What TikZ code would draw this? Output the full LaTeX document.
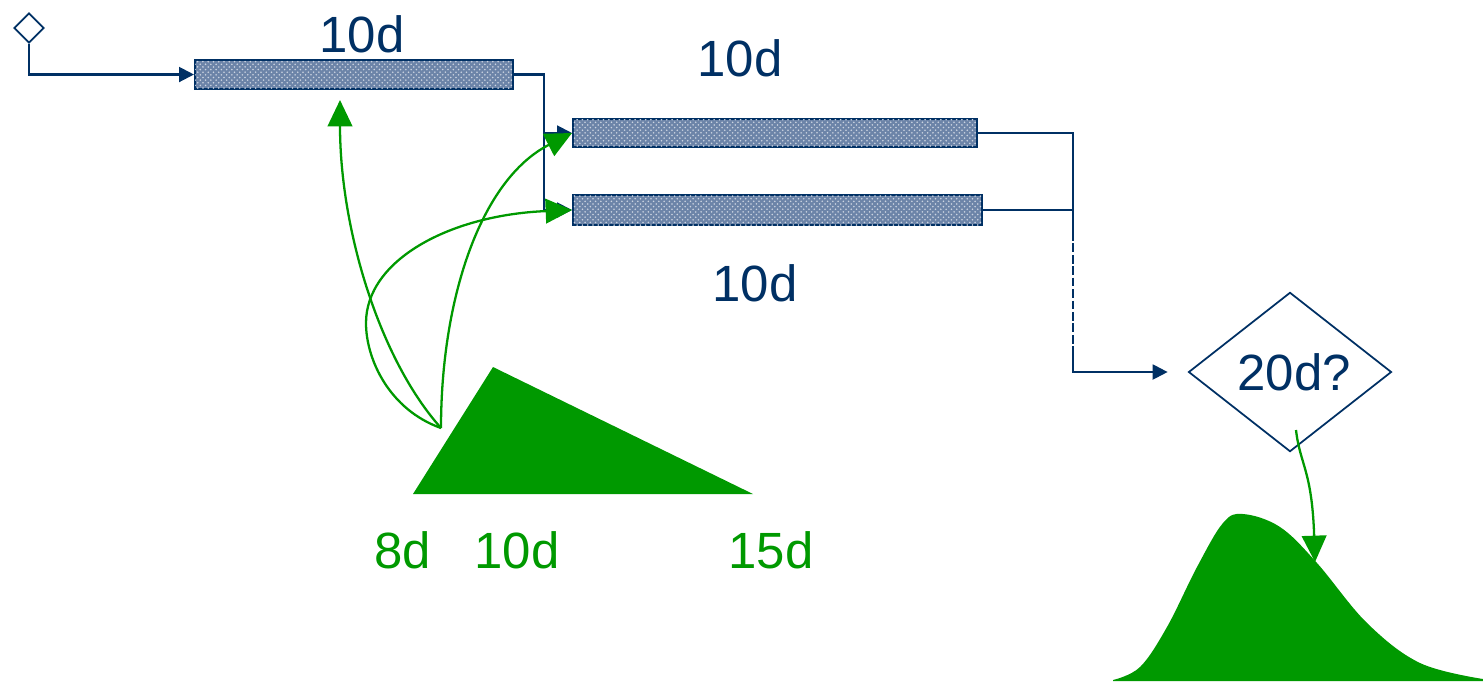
\documentclass[tikz,border=0pt]{standalone}
\usepackage{fontspec}
\setmainfont{Liberation Sans}
\usepackage{tikz}
\usetikzlibrary{shapes.geometric, arrows.meta, patterns}
\definecolor{planblue}{RGB}{0,48,100}
\definecolor{barfill}{RGB}{108,132,168}
\definecolor{riskgreen}{RGB}{0,153,0}

\begin{document}
\begin{tikzpicture}[
  x=0.02cm, y=-0.02cm,
  bar/.style={draw=planblue, line width=1.2pt, fill=barfill, inner sep=0pt,
    postaction={pattern=crosshatch dots, pattern color=white!65!barfill}},
  start/.style={diamond, draw=planblue, line width=1pt, fill=white, inner sep=0pt, minimum width=0.6cm, minimum height=0.6cm},
  decision/.style={diamond, draw=planblue, line width=1pt, inner sep=0pt, minimum width=4.06cm, minimum height=2.94cm,
    font=\fontsize{29}{34}\selectfont, text=planblue},
  lbl/.style={anchor=base, font=\fontsize{29}{34}\selectfont, text=planblue},
  glbl/.style={anchor=base, font=\fontsize{29}{34}\selectfont, text=riskgreen},
  line/.style={draw=planblue, line width=1.2pt},
  flow/.style={line, -{Triangle[length=8.5pt, width=8.5pt]}},
  gflow/.style={draw=riskgreen, line width=1.3pt, -{Triangle[length=15pt, width=14pt]}}
]
\useasboundingbox (0,0) rectangle (1483,681);

% tasks
\node[start] (s0) at (29,28) {};
\node[bar, minimum width=6.36cm, minimum height=0.58cm] (bar1) at (354,74.5) {};
\node[bar, minimum width=8.08cm, minimum height=0.56cm] (bar2) at (775,133) {};
\node[bar, minimum width=8.18cm, minimum height=0.60cm] (bar3) at (777.5,210) {};
\node[decision] (dec) at (1290,372) {\,20d?};

\node[lbl] (d1) at (362,52) {10d};
\node[lbl] (d2) at (740,76) {10d};
\node[lbl] (d3) at (755,301) {10d};

\coordinate (join) at (1073,210);
\coordinate (dashA) at (1073,232);
\coordinate (dashB) at (1073,355);

\draw[flow] (s0.south) |- (bar1.west);
\draw[flow] (bar1.east) -- ++(30,0) |- (bar2.west);
\draw[flow] (bar1.east) -- ++(30,0) |- (bar3.west);
\draw[line] (bar2.east) -| (join);
\draw[line] (bar3.east) -- (join) -- (dashA);
\draw[line, dash pattern=on 5pt off 1.5pt] (dashA) -- (dashB);
\draw[flow, shorten >=0.4cm] (dashB) |- (dec.west);

% triangular estimate
\fill[riskgreen] (413,494) -- (493,367) -- (753,494) -- cycle;
\node[glbl] (lo) at (403,568) {8d};
\node[glbl] (ml) at (517,568) {10d};
\node[glbl] (hi) at (771,568) {15d};

\coordinate (src) at (441,428);
\coordinate (tip1) at (340,100);
\draw[gflow] (src) .. controls (380,360) and (340,230) .. (tip1);
\draw[gflow] (src) .. controls (441,300) and (480,180) .. (bar2.west);
\draw[gflow] (src) .. controls (390,410) and (366,360) .. (366,323)
  .. controls (366,260) and (450,215) .. (bar3.west);

% resulting distribution
\fill[riskgreen] plot[smooth, tension=0.6] coordinates {(1113,680) (1140,667) (1167,627) (1197,567)
  (1223,523) (1243,514) (1280,527) (1317,563) (1367,623) (1420,663) (1483,679)} -- (1483,681) -- (1113,681) -- cycle;
\coordinate (out) at (1296,430);
\coordinate (tip2) at (1315,562);
\draw[gflow] (out) .. controls (1300,465) and (1312,470) .. (tip2);
\end{tikzpicture}
\end{document}
